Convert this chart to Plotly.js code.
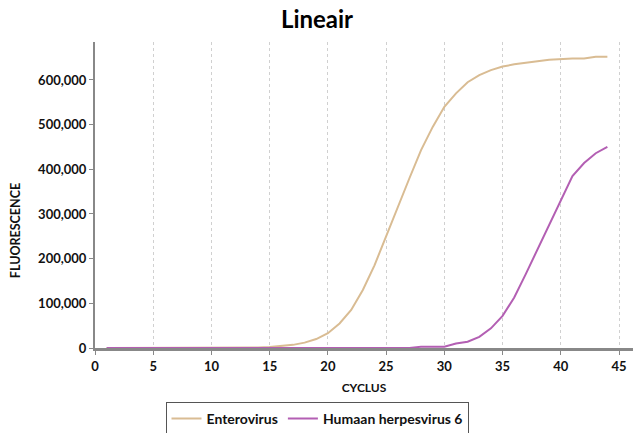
<!DOCTYPE html>
<html>
<head>
<meta charset="utf-8">
<script src="https://cdn.plot.ly/plotly-3.0.1.min.js"></script>
<style>html,body{margin:0;padding:0;background:#fff;}#chart{width:634px;height:433px;}</style>
</head>
<body>
<div id="chart"></div>
<script>
const cycles = [1,2,3,4,5,6,7,8,9,10,11,12,13,14,15,16,17,18,19,20,21,22,23,24,25,26,27,28,29,30,31,32,33,34,35,36,37,38,39,40,41,42,43,44];
const enterovirus = [0,0,0,0,0,0,0,0,0,0,0,0,0,1000,2000,4000,7000,12000,20000,33000,55000,85000,130000,185000,250000,318000,380000,443000,495000,540000,570000,595000,611000,622000,630000,635000,639000,642000,645000,647000,648000,648000,652000,652000];
const herpesvirus6 = [0,0,0,0,0,0,0,0,0,0,0,0,0,0,0,0,0,0,0,0,0,0,0,0,0,0,0,3000,3000,3000,10000,14000,25000,44000,72000,113000,166000,220000,276000,331000,385000,414000,436000,450000];
const seriesNames = ["Enterovirus", "Humaan herpesvirus 6"];
const xTicks = [0,5,10,15,20,25,30,35,40,45];
const yTicks = [0,100000,200000,300000,400000,500000,600000];
const yTickLabels = ["0","100,000","200,000","300,000","400,000","500,000","600,000"];

const font = "Lato, 'Open Sans', sans-serif";
const traces = [
  {x: cycles, y: enterovirus, name: seriesNames[0], type: "scatter", mode: "lines",
   line: {color: "#D9BC93", width: 2}},
  {x: cycles, y: herpesvirus6, name: seriesNames[1], type: "scatter", mode: "lines",
   line: {color: "#B35FB3", width: 2}}
];
const layout = {
  width: 634, height: 433,
  margin: {l: 95, r: 1, t: 42, b: 85, autoexpand: false},
  paper_bgcolor: "#fff", plot_bgcolor: "#fff",
  font: {family: font, color: "#111", size: 12},
  title: {text: "<b>Lineair</b>", x: 0.5, xanchor: "center", y: 0.955, yanchor: "middle",
          font: {family: font, size: 24, color: "#000"}},
  xaxis: {
    range: [0, 46.2], tickvals: xTicks, ticktext: xTicks.map(String),
    showgrid: true, gridcolor: "#d0d0d0", griddash: "dot", gridwidth: 1,
    showline: true, linecolor: "#888", linewidth: 3,
    ticks: "outside", ticklen: 4, tickcolor: "#888",
    tickfont: {family: font, size: 13, color: "#111", weight: "bold"},
    zeroline: false, automargin: false,
    title: {text: "<b>CYCLUS</b>", standoff: 12, font: {family: font, size: 12, color: "#111"}}
  },
  yaxis: {
    range: [0, 685000], tickvals: yTicks, ticktext: yTickLabels,
    showgrid: false,
    showline: true, linecolor: "#888", linewidth: 2,
    ticks: "outside", ticklen: 4, tickcolor: "#888",
    tickfont: {family: font, size: 13, color: "#111", weight: "bold"},
    zeroline: false, automargin: false
  },
  annotations: [{
    text: "<b>FLUORESCENCE</b>", textangle: -90, showarrow: false,
    xref: "paper", yref: "paper", x: -0.148, y: 0.383, xanchor: "center", yanchor: "middle",
    font: {family: font, size: 12.5, color: "#111"}
  }],
  showlegend: true,
  legend: {orientation: "h", x: 0.5, xref: "container", xanchor: "center",
           y: 0.072, yref: "container", yanchor: "top",
           bordercolor: "#555", borderwidth: 1,
           font: {family: font, size: 14, color: "#111", weight: "bold"}}
};
Plotly.newPlot("chart", traces, layout, {displayModeBar: false, staticPlot: true});
</script>
</body>
</html>
